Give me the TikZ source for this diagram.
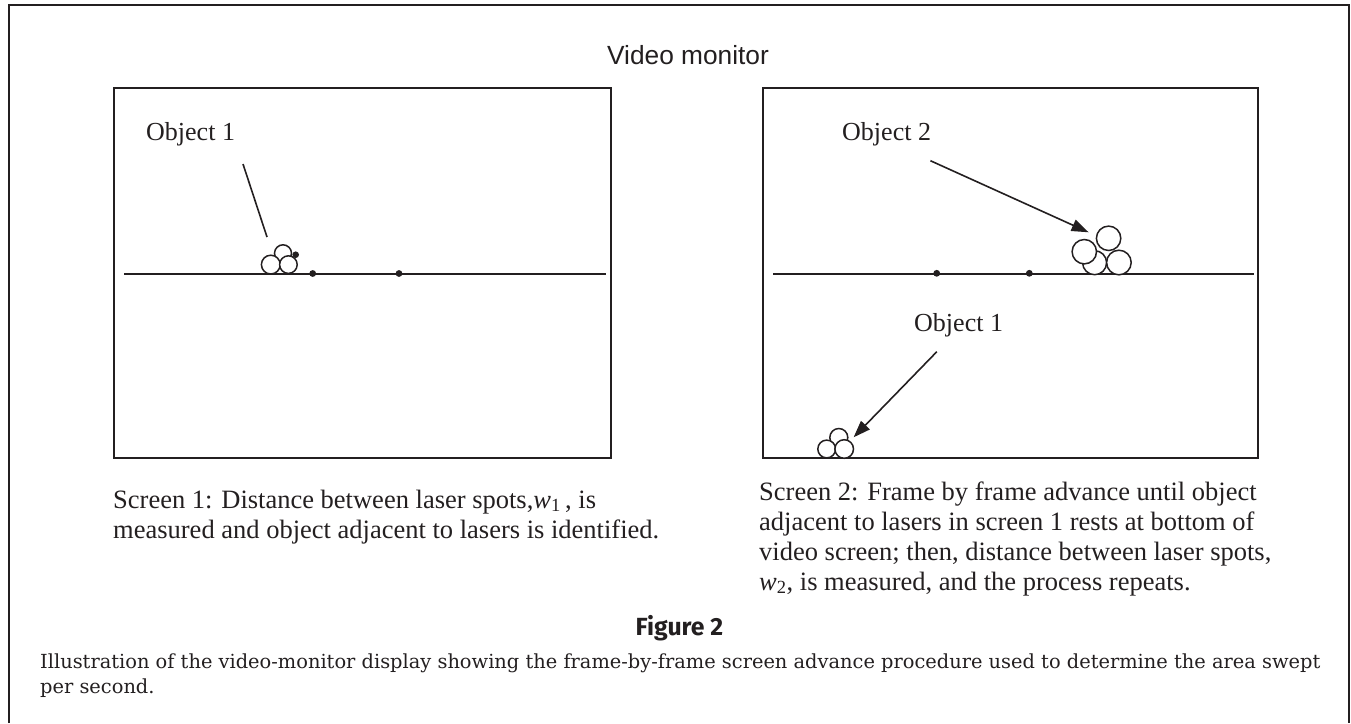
\documentclass[tikz,border=0pt]{standalone}
\usepackage{fontspec}
\setmainfont{Liberation Serif}
\newfontfamily\labelsans{Liberation Sans}
\newfontfamily\headsans{Fira Sans}
\newfontfamily\capserif{DejaVu Serif}
\usetikzlibrary{arrows.meta}
\definecolor{ink}{RGB}{35,31,32}

\tikzset{
  screenbox/.style={draw=ink, line width=2pt},
  scanline/.style={draw=ink, line width=1.6pt},
  spot/.style={fill=ink, draw=none},
  blob/.style={draw=ink, fill=white, line width=1.5pt},
  leader/.style={draw=ink, line width=1.6pt},
  pointer/.style={leader, -{Triangle[length=17pt,width=12pt]}},
  serifline/.style={anchor=base west, inner sep=0pt, text=ink,
    font=\fontsize{26.5}{30}\selectfont},
  objlabel/.style={anchor=base west, inner sep=0pt, text=ink,
    font=\fontsize{26}{29}\selectfont},
  capline/.style={anchor=base west, inner sep=0pt, text=ink,
    font=\capserif\fontsize{19.4}{25}\selectfont},
}

\begin{document}
\begin{tikzpicture}[x=1pt, y=-1pt]
\useasboundingbox (0,0) rectangle (1351,723);

% outer frame (open at the bottom)
\draw[ink, line width=2pt] (9,723) -- (9,5) -- (1349,5) -- (1349,723);

% title
\node[anchor=base, inner sep=0pt, text=ink, font=\labelsans\fontsize{26.3}{30}\selectfont]
  (title) at (688,64) {Video monitor};

% ---------------- screen 1 ----------------
\draw[screenbox] (114,88) rectangle (611,458);
\coordinate (s1a) at (124,274);
\coordinate (s1b) at (606,274);
\draw[scanline] (s1a) -- (s1b);

\node[objlabel] (obj1a) at (146,140) {Object 1};
\coordinate (lead1s) at (243,164);
\coordinate (lead1e) at (267,237);
\draw[leader] (lead1s) -- (lead1e);

% cluster of three objects beside the lasers
\draw[blob] (283,253.3) circle (8.5);
\draw[blob] (270.8,264.6) circle (9.4);
\draw[blob] (288.4,264.6) circle (8.8);
\fill[spot] (295.7,254.7) circle (3.3);

% laser spots
\fill[spot] (312.7,273.5) circle (3.4);
\fill[spot] (399,273.5) circle (3.4);

% ---------------- screen 2 ----------------
\draw[screenbox] (763,88) rectangle (1258,458);
\coordinate (s2a) at (773,274);
\coordinate (s2b) at (1254,274);
\draw[scanline] (s2a) -- (s2b);

\fill[spot] (936.7,273.3) circle (3.4);
\fill[spot] (1029.3,273.3) circle (3.4);

\node[objlabel] (obj2) at (842,140) {Object 2};
\coordinate (arr2s) at (930.4,160.7);
\coordinate (arr2e) at (1088.6,232.3);
\draw[pointer] (arr2s) -- (arr2e);

% object 2 cluster
\draw[blob] (1094.6,262.7) circle (12);
\draw[blob] (1084.3,251.7) circle (12.2);
\draw[blob] (1108.6,238.3) circle (12.2);
\draw[blob] (1118.9,262.5) circle (12.3);

\node[objlabel] (obj1b) at (914,331.7) {Object 1};
\coordinate (arr1s) at (936.8,351.7);
\coordinate (arr1e) at (853.6,437.3);
\draw[pointer] (arr1s) -- (arr1e);

% object 1 resting at the bottom of the screen
\draw[blob] (838.8,437.5) circle (9);
\draw[blob] (826.7,449) circle (8.9);
\draw[blob] (844.2,449) circle (9.3);

% ---------------- captions ----------------
\node[serifline] (c1l1) at (113,508)
  {Screen 1: Distance between laser spots,\textit{w}\textsubscript{1}\,, is};
\node[serifline] (c1l2) at (113,538)
  {measured and object adjacent to lasers is identified.};

\node[serifline] (c2l1) at (759,500)
  {Screen 2: Frame by frame advance until object};
\node[serifline] (c2l2) at (759,530)
  {adjacent to lasers in screen 1 rests at bottom of};
\node[serifline] (c2l3) at (759,560)
  {video screen; then, distance between laser spots,};
\node[serifline] (c2l4) at (759,590)
  {\textit{w}\textsubscript{2}, is measured, and the process repeats.};

\node[anchor=base, inner sep=0pt, text=ink, font=\headsans\bfseries\fontsize{24.8}{28}\selectfont]
  (fig) at (679.5,635) {Figure 2};

\node[capline] (cap1) at (40,668)
  {Illustration of the video-monitor display showing the frame-by-frame screen advance procedure used to determine the area swept};
\node[capline] (cap2) at (40,693) {per second.};
\end{tikzpicture}
\end{document}
